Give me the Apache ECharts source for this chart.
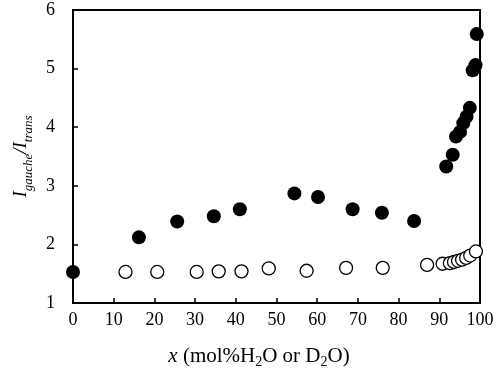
<!DOCTYPE html>
<html>
<head>
<meta charset="utf-8">
<script src="https://cdn.jsdelivr.net/npm/echarts@6/dist/echarts.min.js"></script>
<style>html,body{margin:0;padding:0;background:#fff}#c{width:500px;height:381px}</style>
</head>
<body>
<div id="c"></div>
<script>
// filled series: x values and ratio values
var filledX = [0, 16.2, 25.6, 34.6, 41.0, 54.4, 60.2, 68.7, 75.9, 83.8, 91.7, 93.3, 94.1, 95.1, 95.9, 96.7, 97.5, 98.2, 98.9, 99.2];
var filledY = [1.53, 2.12, 2.39, 2.48, 2.60, 2.87, 2.81, 2.60, 2.54, 2.40, 3.33, 3.53, 3.84, 3.92, 4.07, 4.18, 4.33, 4.97, 5.06, 5.59];
// open series
var openX = [12.9, 20.7, 30.4, 35.8, 41.4, 48.1, 57.4, 67.1, 76.1, 87.0, 90.8, 92.6, 93.6, 94.6, 95.6, 96.6, 97.6, 99.0];
var openY = [1.53, 1.53, 1.53, 1.54, 1.54, 1.59, 1.55, 1.60, 1.60, 1.65, 1.67, 1.68, 1.70, 1.72, 1.74, 1.77, 1.81, 1.88];
var xTicks = [0, 10, 20, 30, 40, 50, 60, 70, 80, 90, 100];
var yTicks = [1, 2, 3, 4, 5, 6];

function zip(a, b) { return a.map(function (v, i) { return [v, b[i]]; }); }

var font = 'Liberation Serif';
var chart = echarts.init(document.getElementById('c'));
chart.setOption({
  animation: false,
  grid: { left: 73, right: 20, top: 10, bottom: 78, show: true, borderColor: '#000', borderWidth: 2, backgroundColor: 'transparent' },
  xAxis: {
    type: 'value', min: xTicks[0], max: xTicks[xTicks.length - 1], interval: 10,
    axisLine: { lineStyle: { color: '#000', width: 2 } },
    axisTick: { inside: true, length: 5, lineStyle: { color: '#000', width: 1.5 } },
    splitLine: { show: false },
    axisLabel: { color: '#000', fontFamily: font, fontSize: 18, margin: 8 },
    name: '{i|x }{t|(mol%H}{s|2}{t|O or D}{s|2}{t|O)}',
    nameLocation: 'middle', nameGap: 40,
    nameTextStyle: {
      padding: [0, 35, 0, 0],
      rich: {
        i: { fontFamily: font, fontStyle: 'italic', fontSize: 21, lineHeight: 26, color: '#000' },
        t: { fontFamily: font, fontSize: 21, lineHeight: 26, color: '#000' },
        s: { fontFamily: font, fontSize: 14, color: '#000', verticalAlign: 'bottom', lineHeight: 12 }
      }
    }
  },
  yAxis: {
    type: 'value', min: yTicks[0], max: yTicks[yTicks.length - 1], interval: 1,
    axisLine: { lineStyle: { color: '#000', width: 2 } },
    axisTick: { inside: true, length: 5, lineStyle: { color: '#000', width: 1.5 } },
    splitLine: { show: false },
    axisLabel: { color: '#000', fontFamily: font, fontSize: 18, margin: 18 },
    name: '{i|I}{s|gauche}{i|/I}{s|trans}',
    nameLocation: 'middle', nameGap: 35, nameRotate: 90,
    nameTextStyle: {
      rich: {
        i: { fontFamily: font, fontStyle: 'italic', fontSize: 19, lineHeight: 28, color: '#000' },
        s: { fontFamily: font, fontStyle: 'italic', fontSize: 13, color: '#000', verticalAlign: 'bottom', lineHeight: 9 }
      }
    }
  },
  series: [
    {
      type: 'scatter', data: zip(openX, openY), symbol: 'circle', symbolSize: 13,
      itemStyle: { color: '#fff', borderColor: '#000', borderWidth: 1.3, opacity: 1 }, z: 2
    },
    {
      type: 'scatter', data: zip(filledX, filledY), symbol: 'circle', symbolSize: 14,
      itemStyle: { color: '#000', opacity: 1 }, z: 3
    }
  ]
});
</script>
</body>
</html>
